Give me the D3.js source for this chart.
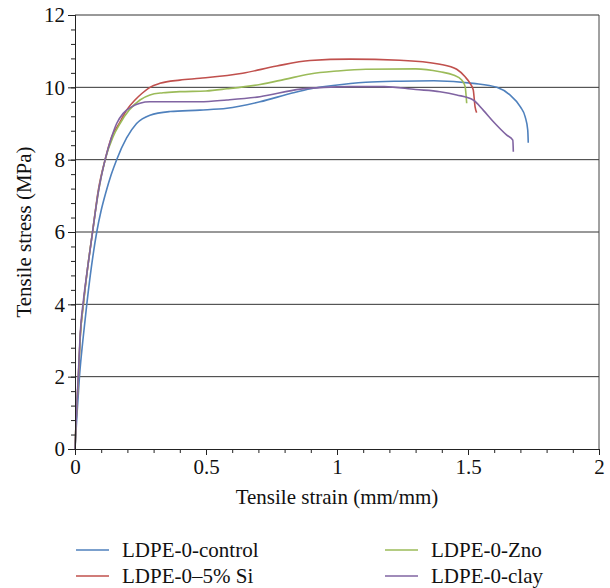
<!DOCTYPE html>
<meta charset="utf-8">
<style>
    body { margin: 0; background: #fff; }
    text { font-family: "Liberation Serif", "DejaVu Serif", serif; fill: #111; }
    .tick text { font-size: 21px; }
    .label { font-size: 21px; }
    .legend text { font-size: 21px; }
    .grid line { stroke: #333; stroke-width: 1; }
    .series { fill: none; stroke-width: 1.6px; }
</style>
<svg width="610" height="588"></svg>
<script src="https://d3js.org/d3.v7.min.js"></script>
<script>

    var names = ["LDPE-0-control", "LDPE-0\u20135% Si", "LDPE-0-Zno", "LDPE-0-clay"];
    var colors = ["#4F81BD", "#C0504D", "#9BBB59", "#8064A2"];

    var controlStrain = [0, 0.008, 0.017, 0.03, 0.045, 0.062, 0.083, 0.1, 0.118, 0.138, 0.159, 0.197, 0.235, 0.286, 0.363, 0.477, 0.58, 0.706, 0.833, 0.9, 0.985, 1.11, 1.24, 1.37, 1.52, 1.61, 1.66, 1.7, 1.718, 1.728, 1.73];
    var controlStress = [0, 1.0, 2.0, 3.0, 4.0, 5.0, 6.0, 6.6, 7.1, 7.58, 8.0, 8.6, 9.0, 9.23, 9.33, 9.37, 9.42, 9.6, 9.85, 9.96, 10.05, 10.14, 10.17, 10.18, 10.11, 10.0, 9.79, 9.46, 9.19, 8.82, 8.47];

    var siStrain = [0, 0.005, 0.013, 0.02, 0.032, 0.048, 0.067, 0.089, 0.115, 0.14, 0.169, 0.197, 0.229, 0.255, 0.286, 0.324, 0.4, 0.477, 0.64, 0.77, 0.897, 1.05, 1.24, 1.393, 1.457, 1.489, 1.508, 1.52, 1.527, 1.533];
    var siStress = [0, 0.9, 2.0, 3.1, 4.0, 5.0, 6.0, 7.16, 8.0, 8.63, 9.0, 9.37, 9.65, 9.83, 10.0, 10.11, 10.2, 10.25, 10.39, 10.59, 10.74, 10.78, 10.75, 10.64, 10.5, 10.29, 10.11, 9.93, 9.46, 9.3];

    var znoStrain = [0, 0.005, 0.013, 0.02, 0.032, 0.048, 0.067, 0.089, 0.115, 0.145, 0.172, 0.207, 0.248, 0.286, 0.336, 0.4, 0.5, 0.58, 0.706, 0.8, 0.897, 1.0, 1.11, 1.3, 1.393, 1.444, 1.476, 1.489, 1.495];
    var znoStress = [0, 0.9, 2.0, 3.1, 4.0, 5.0, 6.0, 7.1, 8.0, 8.63, 9.0, 9.37, 9.65, 9.79, 9.85, 9.88, 9.9, 9.96, 10.08, 10.22, 10.37, 10.45, 10.5, 10.51, 10.43, 10.34, 10.2, 10.02, 9.56];

    var clayStrain = [0, 0.005, 0.013, 0.02, 0.032, 0.048, 0.067, 0.089, 0.115, 0.14, 0.159, 0.184, 0.216, 0.248, 0.286, 0.477, 0.58, 0.706, 0.86, 0.95, 1.05, 1.18, 1.3, 1.393, 1.457, 1.52, 1.558, 1.597, 1.648, 1.671, 1.673];
    var clayStress = [0, 0.9, 2.1, 3.2, 4.1, 5.0, 6.0, 7.1, 8.0, 8.63, 9.0, 9.28, 9.46, 9.56, 9.6, 9.6, 9.65, 9.74, 9.95, 10.0, 10.02, 10.02, 9.94, 9.88, 9.79, 9.65, 9.37, 9.05, 8.68, 8.54, 8.22];

    var xTicks = [0, 0.5, 1, 1.5, 2];
    var yTicks = [0, 2, 4, 6, 8, 10, 12];

    var series = [
        {name: names[0], color: colors[0], x: controlStrain, y: controlStress},
        {name: names[1], color: colors[1], x: siStrain, y: siStress},
        {name: names[2], color: colors[2], x: znoStrain, y: znoStress},
        {name: names[3], color: colors[3], x: clayStrain, y: clayStress}
    ];

    var svg = d3.select("svg"),
        pLeft = 75, pRight = 599, pTop = 15, pBottom = 449;

    var x = d3.scaleLinear().domain([0, 2]).range([pLeft, pRight]);
    var y = d3.scaleLinear().domain([0, 12]).range([pBottom, pTop]);

    // grid lines
    svg.append("g").attr("class", "grid")
        .selectAll("line")
        .data(yTicks.slice(1))
        .enter().append("line")
        .attr("x1", pLeft).attr("x2", pRight)
        .attr("y1", function(d) { return y(d); })
        .attr("y2", function(d) { return y(d); });

    // right border
    svg.append("line")
        .attr("x1", pRight).attr("x2", pRight).attr("y1", pTop).attr("y2", pBottom)
        .attr("stroke", "#444");

    var line = d3.line()
        .x(function(d) { return x(d[0]); })
        .y(function(d) { return y(d[1]); })
        .curve(d3.curveMonotoneX);

    svg.append("g").selectAll("path")
        .data(series)
        .enter().append("path")
        .attr("class", "series")
        .attr("stroke", function(d) { return d.color; })
        .attr("d", function(d) { return line(d3.zip(d.x, d.y)); });

    // minor ticks
    var yAxisMinor = d3.axisLeft(y).tickValues(d3.range(0, 12.01, 0.4)).tickSize(4).tickFormat("");
    var xAxisMinor = d3.axisBottom(x).tickValues(d3.range(0, 2.01, 0.1)).tickSize(4).tickFormat("");
    svg.append("g").attr("transform", "translate(" + pLeft + ",0)").call(yAxisMinor);
    svg.append("g").attr("transform", "translate(0," + pBottom + ")").call(xAxisMinor);

    var yAxis = d3.axisLeft(y).tickValues(yTicks).tickSize(7).tickPadding(3).tickFormat(d3.format("d"));
    var xAxis = d3.axisBottom(x).tickValues(xTicks).tickSize(6).tickPadding(4).tickFormat(function(d) { return d; });
    svg.append("g").attr("transform", "translate(" + pLeft + ",0)").call(yAxis);
    svg.append("g").attr("transform", "translate(0," + pBottom + ")").call(xAxis);

    svg.selectAll(".domain, .tick line").attr("stroke", "#222");
    svg.selectAll(".tick text").attr("fill", "#111").style("font-family", "Liberation Serif");

    svg.append("text").attr("class", "label")
        .attr("x", (pLeft + pRight) / 2).attr("y", 504)
        .attr("text-anchor", "middle")
        .text("Tensile strain (mm/mm)");

    svg.append("text").attr("class", "label")
        .attr("transform", "translate(31," + (pTop + pBottom) / 2 + ") rotate(-90)")
        .attr("text-anchor", "middle")
        .text("Tensile stress (MPa)");

    // legend
    var legend = svg.append("g").attr("class", "legend")
        .selectAll("g")
        .data(series)
        .enter().append("g")
        .attr("transform", function(d, i) {
            return "translate(" + (i < 2 ? 76 : 385) + "," + (i % 2 === 0 ? 550 : 576) + ")";
        });
    legend.append("line")
        .attr("x1", 0).attr("x2", 33)
        .attr("stroke", function(d) { return d.color; })
        .attr("stroke-width", 1.6);
    legend.append("text")
        .attr("x", 46).attr("dy", "0.33em")
        .text(function(d) { return d.name; });

</script>
